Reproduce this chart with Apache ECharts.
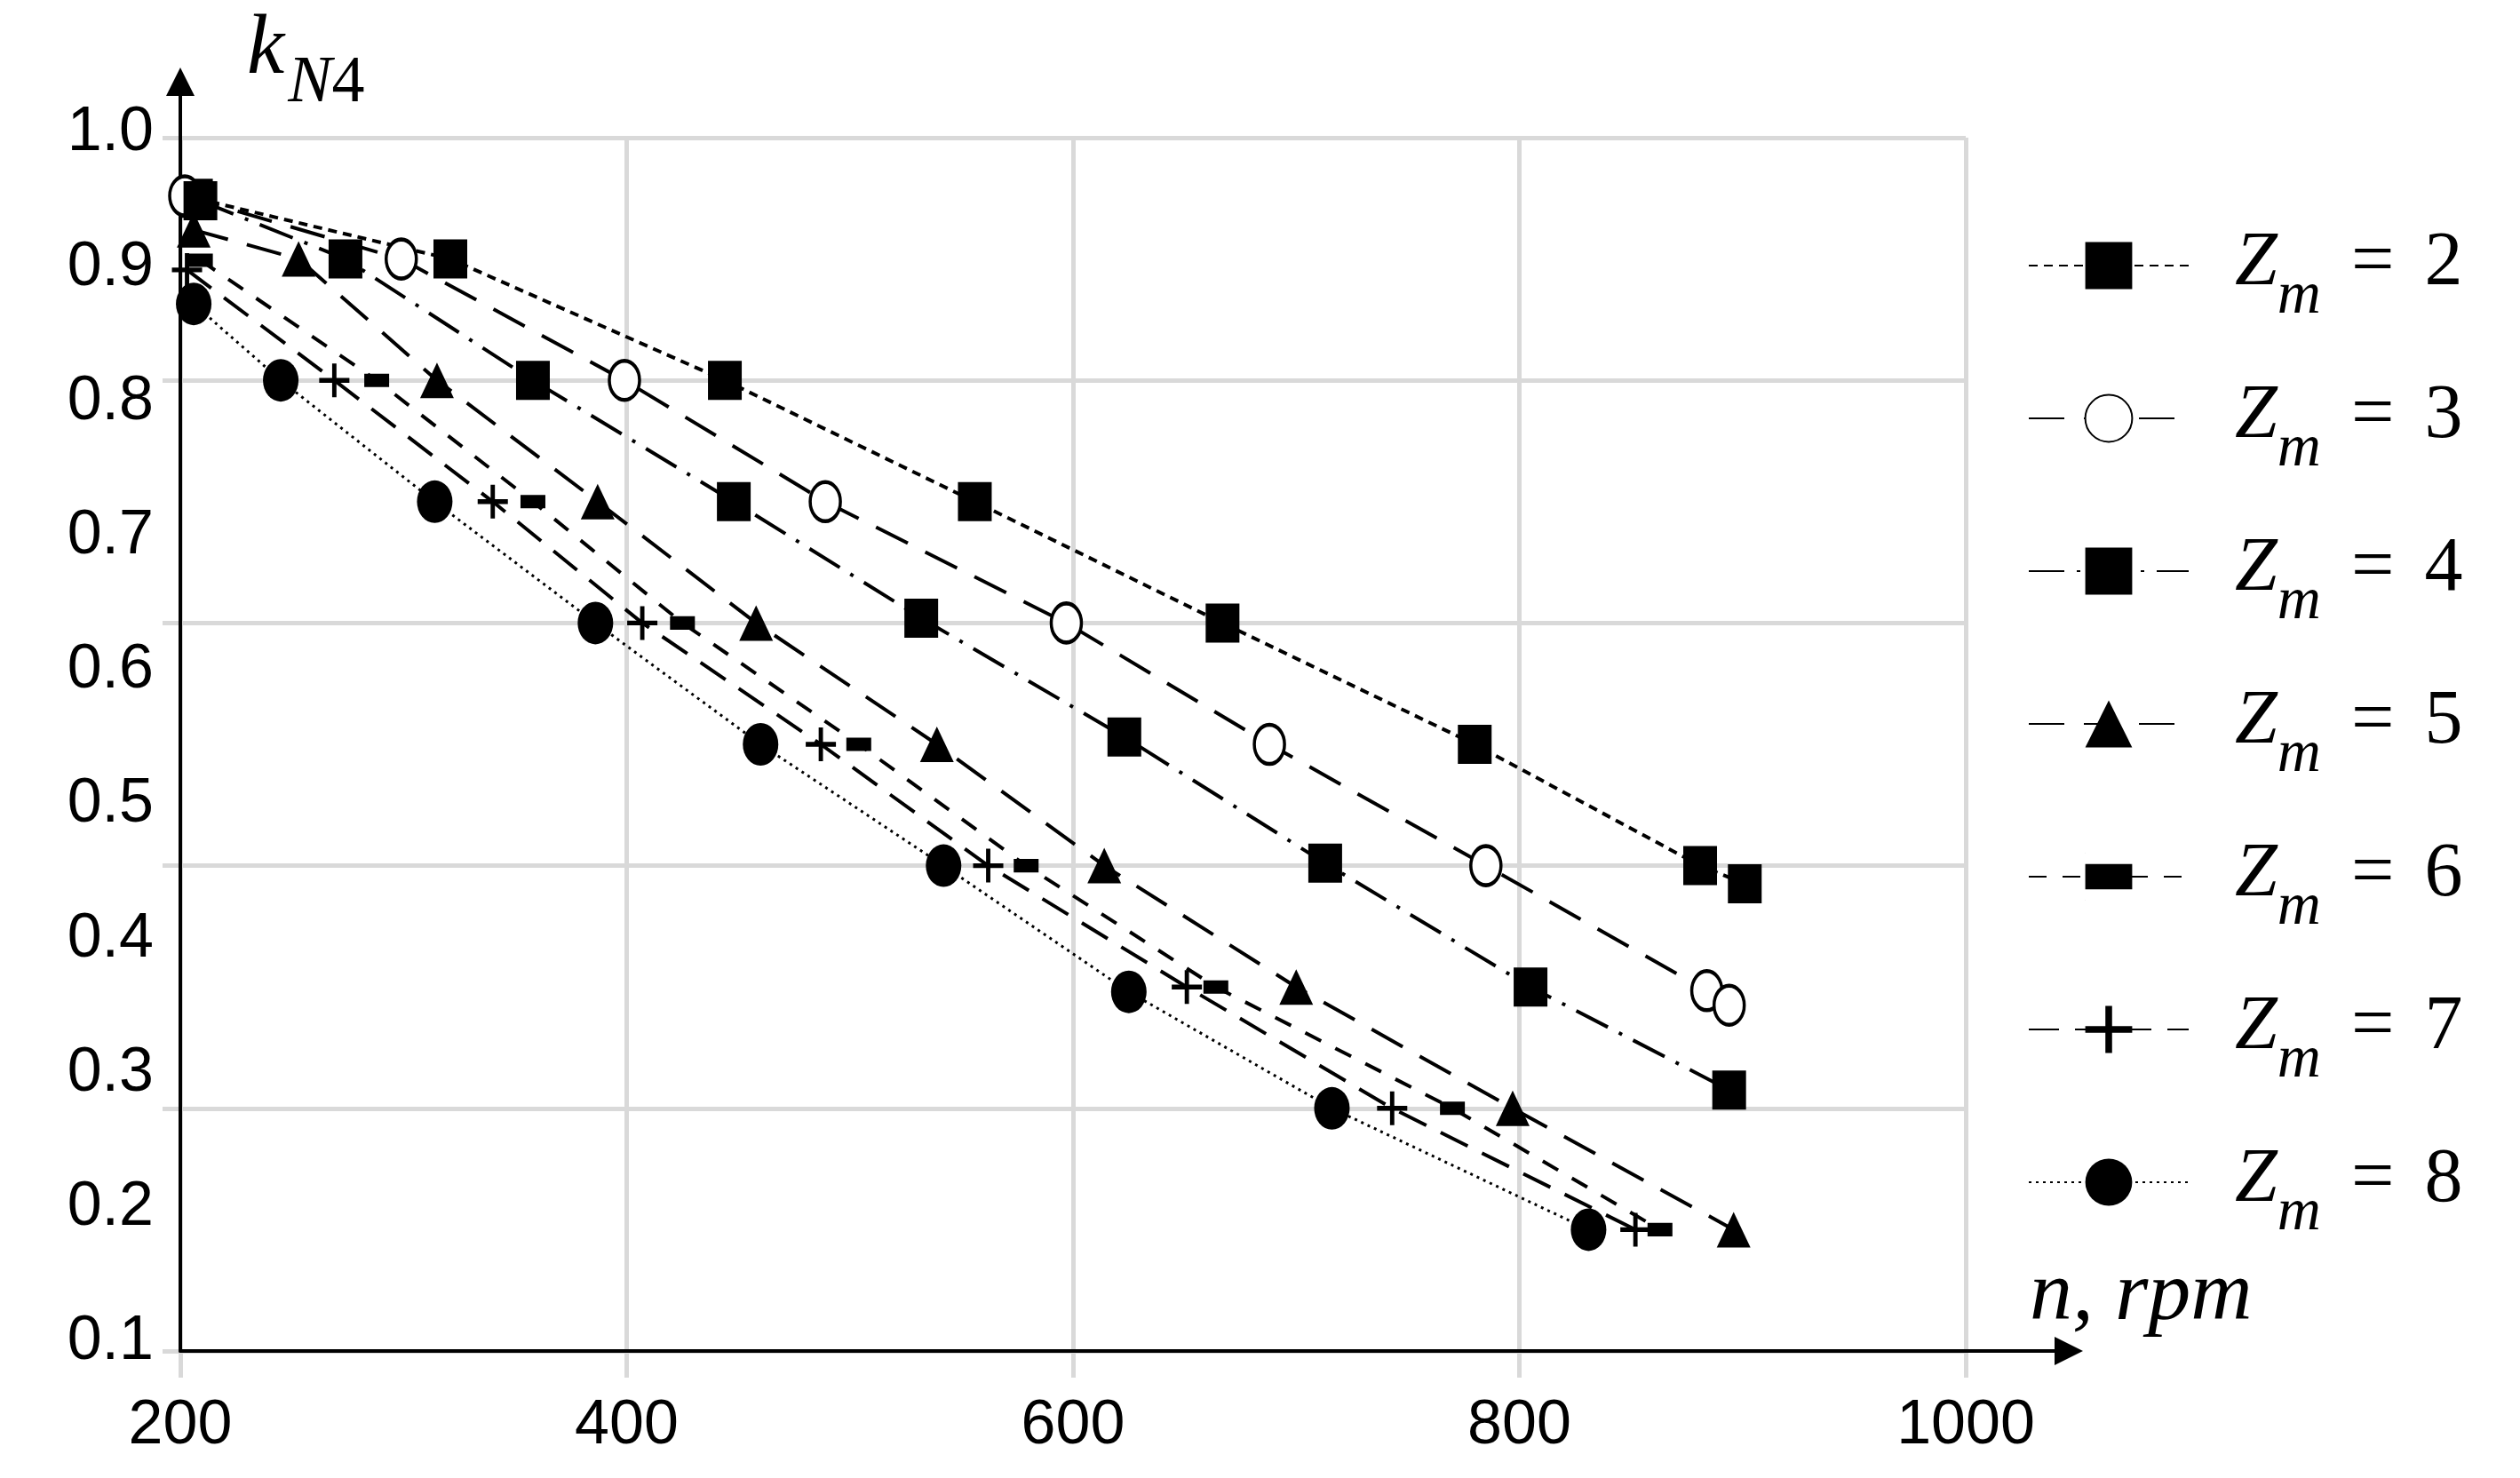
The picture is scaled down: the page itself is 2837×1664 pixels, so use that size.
<!DOCTYPE html>
<html><head><meta charset="utf-8">
<script src="https://cdn.jsdelivr.net/npm/echarts@6/dist/echarts.min.js"></script>
<style>html,body{margin:0;padding:0;background:#fff}#c{width:2837px;height:1664px}</style>
</head><body><div id="c"></div>
<script>
// ---- data (n in rpm, k_N4) ----
const legendNames = ['2', '3', '4', '5', '6', '7', '8'];
const z2_n = [207, 321, 444, 556, 667, 780, 881, 901];
const z2_k = [0.95, 0.90, 0.80, 0.70, 0.60, 0.50, 0.40, 0.385];
const z3_n = [202, 299, 399, 489, 597, 688, 785, 884, 894];
const z3_k = [0.952, 0.90, 0.80, 0.70, 0.60, 0.50, 0.40, 0.297, 0.285];
const z4_n = [209, 274, 358, 448, 532, 623, 713, 805, 894];
const z4_k = [0.948, 0.90, 0.80, 0.70, 0.604, 0.506, 0.402, 0.30, 0.215];
const z5_n = [206, 253, 315, 387, 458, 539, 614, 700, 797, 896];
const z5_k = [0.924, 0.90, 0.80, 0.70, 0.60, 0.50, 0.40, 0.30, 0.20, 0.10];
const z6_n = [209, 288, 358, 425, 504, 579, 664, 770, 863];
const z6_k = [0.899, 0.80, 0.70, 0.60, 0.50, 0.40, 0.30, 0.20, 0.10];
const z7_n = [203, 269, 340, 407, 487, 562, 651, 743, 852];
const z7_k = [0.891, 0.80, 0.70, 0.60, 0.50, 0.40, 0.30, 0.20, 0.10];
const z8_n = [206, 245, 314, 386, 460, 542, 625, 716, 831];
const z8_k = [0.863, 0.80, 0.70, 0.60, 0.50, 0.40, 0.296, 0.20, 0.10];
const xTicks = [200, 400, 600, 800, 1000];
const yTickLabels = [0.1, 0.2, 0.3, 0.4, 0.5, 0.6, 0.7, 0.8, 0.9, 1.0];

const zip = (a, b) => a.map((v, i) => [v, b[i]]);

const GRID = '#d9d9d9';
const ELLIPSE = 'path://M0,10a10,10 0 1,0 20,0a10,10 0 1,0 -20,0z';
const PLUS = 'path://M9,0h3v9h9v3h-9v9h-3v-9h-9v-3h9z';
const BAR = 'path://M0,6h26v14h-26zM0,0h0.1v0.1h-0.1zM0,25.9h0.1v0.1h-0.1z';

function mk(name, data, symbol, size, dash, width, hollow) {
  return {
    name: name, type: 'line', xAxisIndex: 0, yAxisIndex: 0,
    data: data, symbol: symbol, symbolSize: size, showAllSymbol: true,
    lineStyle: { color: '#000', width: width, type: dash },
    itemStyle: hollow ? { color: '#fff', borderColor: '#000', borderWidth: 4 } : { color: '#000' },
    emphasis: { disabled: true }, z: 3
  };
}

const series = [
  mk('2', zip(z2_n, z2_k), 'rect', [38, 44], [10, 7], 4, false),
  mk('3', zip(z3_n, z3_k), ELLIPSE, [34, 44], [40, 22], 4, true),
  mk('4', zip(z4_n, z4_k), 'rect', [38, 44], [40, 14, 4, 14], 4, false),
  mk('5', zip(z5_n, z5_k), 'triangle', [38, 40], [40, 22], 4, false),
  mk('6', zip(z6_n, z6_k), BAR, [28, 28], [20, 18], 4, false),
  mk('7', zip(z7_n, z7_k), PLUS, [34, 38], [34, 18], 4, false),
  mk('8', zip(z8_n, z8_k), ELLIPSE, [40, 48], [3, 5], 3, false)
];

const serif = "'Liberation Serif', 'DejaVu Serif', serif";
const sans = "'Liberation Sans', 'DejaVu Sans', sans-serif";

const chart = echarts.init(document.getElementById('c'), null, { renderer: 'canvas' });
chart.setOption({
  animation: false,
  backgroundColor: '#fff',
  title: [
    {
      text: '{k|k}{s|N}{d|4}', left: 278, top: 10, padding: 0,
      textStyle: {
        rich: {
          k: { fontFamily: serif, fontStyle: 'italic', fontWeight: 'normal', fontSize: 95, lineHeight: 110, verticalAlign: 'top', color: '#000' },
          s: { fontFamily: serif, fontStyle: 'italic', fontWeight: 'normal', fontSize: 74, lineHeight: 74, verticalAlign: 'top', color: '#000', padding: [48, 0, 0, 4] },
          d: { fontFamily: serif, fontWeight: 'normal', fontSize: 74, lineHeight: 74, verticalAlign: 'top', color: '#000', padding: [48, 0, 0, 0] }
        }
      }
    },
    {
      text: '{a|n, rpm}', left: 2285, top: 1405, padding: 0,
      textStyle: {
        rich: {
          a: { fontFamily: serif, fontStyle: 'italic', fontWeight: 'normal', fontSize: 96, lineHeight: 110, color: '#000' }
        }
      }
    }
  ],
  legend: {
    orient: 'vertical', left: 2283, top: 254, padding: 0,
    itemWidth: 180, itemHeight: 66, itemGap: 58,
    data: legendNames,
    formatter: function (n) { return '{z|Z}{m|m}{q|=}{d|' + n + '}'; },
    textStyle: {
      rich: {
        z: { fontFamily: serif, fontStyle: 'italic', fontSize: 86, lineHeight: 90, verticalAlign: 'top', color: '#000', padding: [0, 0, 0, 47] },
        m: { fontFamily: serif, fontStyle: 'italic', fontSize: 68, lineHeight: 50, verticalAlign: 'top', color: '#000', padding: [46, 0, 0, 0] },
        q: { fontFamily: serif, fontSize: 86, lineHeight: 90, verticalAlign: 'top', color: '#000', padding: [0, 0, 0, 34] },
        d: { fontFamily: serif, fontSize: 86, lineHeight: 90, verticalAlign: 'top', color: '#000', padding: [0, 0, 0, 34] }
      }
    }
  },
  grid: [
    { left: 203, right: 624, top: 155, bottom: 143, containLabel: false },
    { left: 203, right: 508, top: 92, bottom: 143, containLabel: false }
  ],
  xAxis: [
    {
      type: 'value', gridIndex: 0, min: 200, max: 1000, interval: 200,
      axisLine: { show: false },
      axisTick: { show: true, length: 30, lineStyle: { color: GRID, width: 5 } },
      splitLine: { show: true, lineStyle: { color: GRID, width: 5 } },
      axisLabel: {
        show: true, formatter: function (v) { return String(v); },
        fontFamily: "'Liberation Sans Narrow', " + sans, fontSize: 70, lineHeight: 70, color: '#000', margin: 50
      }
    },
    {
      type: 'value', gridIndex: 1, min: 0, max: 1, z: 1,
      axisLine: { show: true, onZero: false, symbol: ['none', 'triangle'], symbolSize: [32, 32], lineStyle: { color: '#000', width: 4 } },
      axisTick: { show: false }, axisLabel: { show: false }, splitLine: { show: false }
    }
  ],
  yAxis: [
    {
      type: 'value', gridIndex: 0, min: 0, max: 1, interval: 0.2,
      axisLine: { show: false },
      axisTick: { show: true, length: 20, lineStyle: { color: GRID, width: 5 } },
      splitLine: { show: true, lineStyle: { color: GRID, width: 5 } },
      axisLabel: { show: false }
    },
    {
      type: 'value', gridIndex: 1, min: 0.09339, max: 1.03835, z: 1,
      axisLine: { show: true, onZero: false, symbol: ['none', 'triangle'], symbolSize: [32, 32], lineStyle: { color: '#000', width: 4 } },
      axisTick: { show: false }, splitLine: { show: false },
      axisLabel: {
        show: true, customValues: yTickLabels, showMinLabel: true, showMaxLabel: true,
        formatter: function (v) { return Number(v).toFixed(1); },
        fontFamily: sans, fontSize: 70, color: '#000', margin: 30
      }
    }
  ],
  series: series
});
</script>
</body></html>
